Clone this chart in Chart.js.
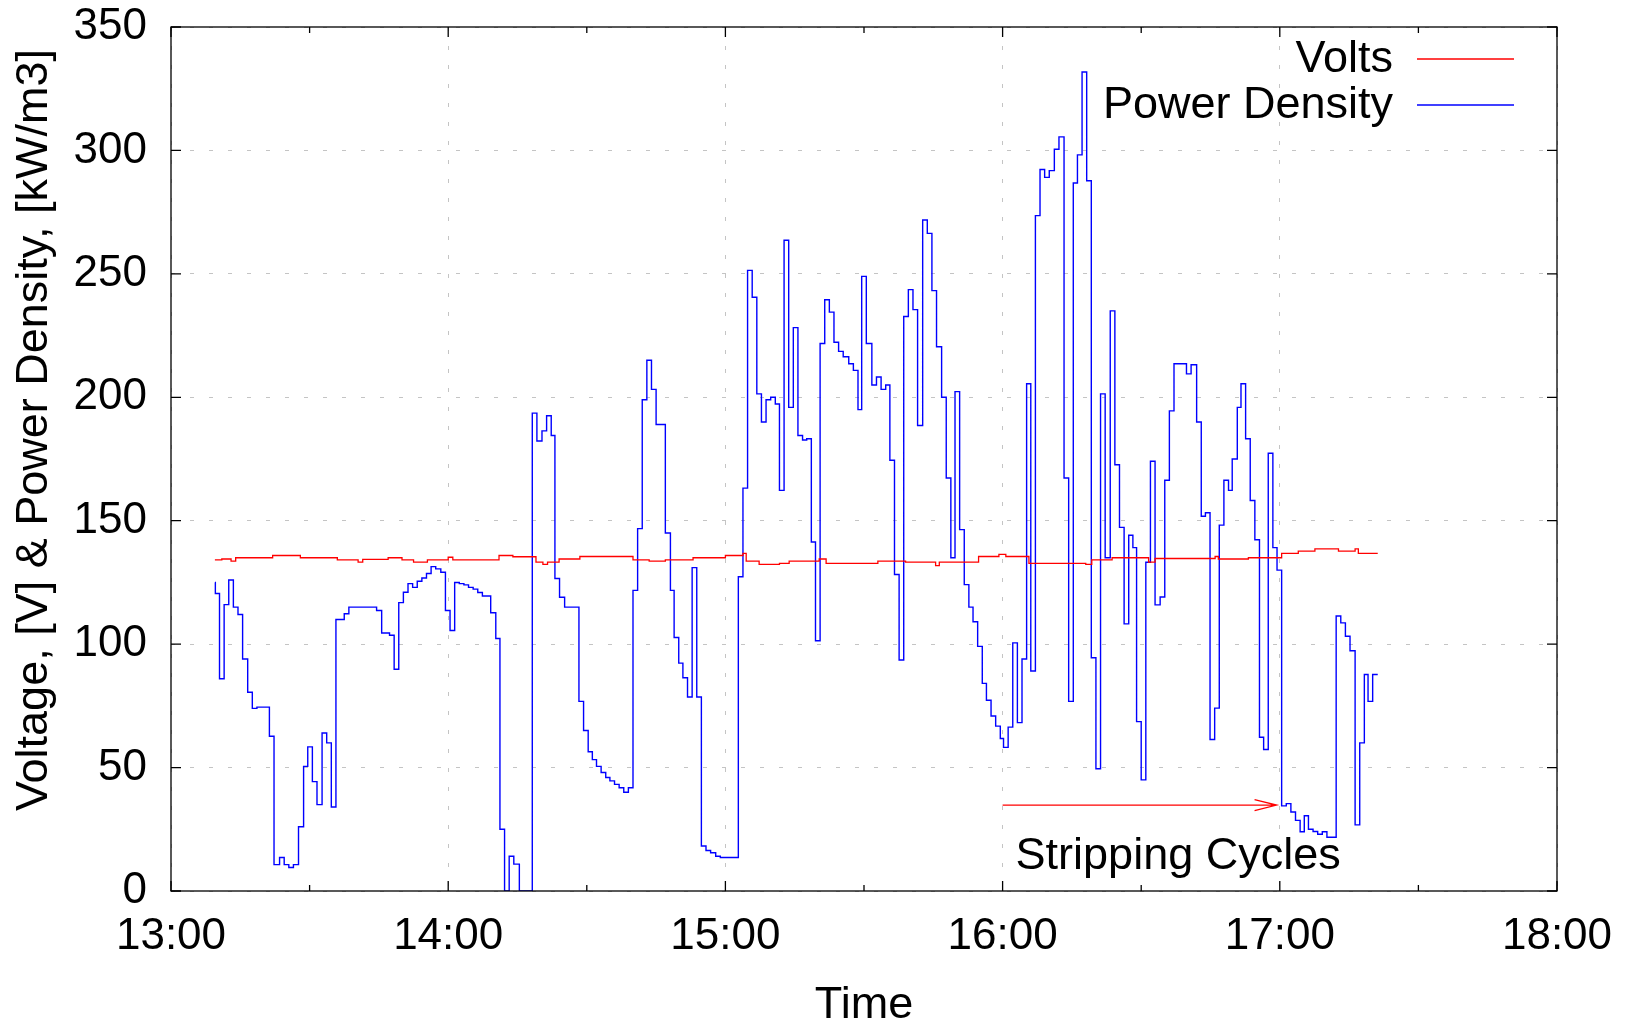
<!DOCTYPE html>
<html>
<head>
<meta charset="utf-8">
<title>Voltage & Power Density</title>
<script src="https://cdn.jsdelivr.net/npm/chart.js@4.4.0/dist/chart.umd.min.js"></script>
<style>
  html, body { margin: 0; padding: 0; background: #fff; }
  canvas { display: block; }
</style>
</head>
<body>
<canvas id="powerChart" width="1632" height="1025"></canvas>
<script>
// Time axis: minutes after 13:00
const hourLabels = ['13:00', '14:00', '15:00', '16:00', '17:00', '18:00'];

// Power density [kW/m3], stepped
const powerMinutes = [
  9.5, 9.6, 10.5, 11.5, 12.5, 13.5, 14.5, 15.5, 16.6, 17.6, 18.6, 21.3, 22.3, 23.5, 24.5, 25.5, 26.5,
  27.6, 28.7, 29.6, 30.6, 31.6, 32.7, 33.7, 34.7, 35.7, 37.5, 38.5, 44.5, 45.6, 47.3, 48.3, 49.3,
  50.3, 51.3, 52.3, 53.3, 54.3, 55.3, 56.3, 57.3, 58.4, 59.4, 60.4, 61.4, 62.4, 63.4, 64.4, 65.4,
  66.4, 67.4, 69.2, 70.3, 71.2, 72.2, 73.2, 74.2, 75.4, 78.2, 79.2, 80.3, 81.3, 82.3, 83.1, 84.1,
  85.2, 88.3, 89.3, 90.3, 91.2, 92.1, 93.1, 94.1, 95.0, 96.0, 97.0, 98.0, 99.0, 100.0, 101.0, 102.0,
  103.0, 104.0, 105.0, 107.0, 108.1, 108.9, 109.9, 110.8, 111.8, 112.8, 113.8, 114.8, 115.8, 116.8,
  117.9, 118.9, 122.8, 123.8, 124.8, 125.8, 126.8, 127.8, 128.8, 129.8, 130.8, 131.7, 132.7, 133.7,
  134.7, 135.7, 136.7, 137.6, 138.6, 139.5, 140.5, 141.5, 142.5, 143.5, 144.5, 145.5, 146.7, 147.7,
  148.7, 149.5, 150.5, 151.7, 152.7, 153.7, 154.7, 155.6, 156.6, 157.6, 158.6, 159.6, 160.6, 161.6,
  162.7, 163.7, 164.7, 165.7, 166.8, 167.8, 168.8, 169.7, 170.7, 171.7, 172.7, 173.6, 174.6, 175.6,
  176.5, 177.5, 178.5, 179.5, 180.2, 181.2, 182.2, 183.2, 184.2, 185.2, 186.1, 187.1, 188.1, 189.1,
  190.1, 191.2, 192.2, 193.3, 194.3, 195.3, 196.2, 197.2, 198.2, 199.2, 200.2, 201.2, 202.2, 203.3,
  204.3, 205.3, 206.3, 207.3, 208.2, 209.0, 210.0, 211.0, 212.0, 213.0, 214.1, 215.1, 216.1, 217.1,
  219.8, 220.8, 222.0, 223.0, 223.9, 224.9, 225.9, 226.9, 227.9, 228.9, 229.7, 230.8, 231.6, 232.6,
  233.6, 234.6, 235.6, 236.5, 237.5, 238.5, 239.4, 240.4, 241.4, 242.4, 243.4, 244.4, 245.3, 246.2,
  247.2, 248.2, 249.2, 250.2, 252.2, 253.2, 254.2, 255.2, 256.3, 257.3, 258.3, 259.1, 260.1, 261.2
];
const powerValues = [
  125, 120.5, 86, 116, 126, 115, 112, 94, 80.5, 74, 74.5, 62.7, 10.7, 13.6, 10.7, 9.5, 10.7,
  26, 50.5, 58.4, 44.3, 35, 64, 60, 34, 110, 112.3, 115, 113.6, 104.5, 103.6, 89.8, 116.8,
  121, 124.5, 123, 125.5, 126.8, 128.6, 131.4, 130.5, 129.1, 113.6, 105.5, 125, 124.5, 124, 123, 122.3,
  120.9, 119.5, 112.7, 102.3, 25, 0, 14.1, 10.9, 0, 193.6, 182.3, 186.4, 192.5, 184.5, 126.6, 119,
  115, 76.8, 65, 56.4, 53.2, 50.5, 48, 46, 44.6, 43.2, 41.8, 40, 41.8, 121.8, 146.8, 199,
  215, 203.2, 189, 145, 121.8, 102.7, 92.3, 86.4, 78.6, 131, 78.6, 18.2, 16.4, 15.5,
  14.1, 13.6, 127.3, 163.2, 251.4, 240.5, 201.4, 190, 199, 200, 197.3, 162.3, 263.6, 195.9,
  228.2, 184.5, 182.7, 183.2, 141.4, 101.4, 221.8, 239.5, 234.5, 222.3, 218.6, 216.4, 213.6, 210.9,
  195, 249, 221.8, 205, 208.2, 203.2, 205, 174.5, 128.2, 93.6, 232.7, 243.6, 235.5, 188.6,
  271.8, 266.4, 243.2, 220.5, 200, 167.3, 135, 202.3, 146.4, 124.1, 115, 109.1, 99.1, 84.1,
  77.3, 70.9, 66.8, 61.8, 58.2, 66.4, 100.5, 68.2, 94, 205.5, 89.1, 273.6, 292.3, 289.1,
  291.8, 300.5, 305.5, 167.3, 76.8, 286.8, 298.2, 331.8, 287.7, 94.5, 49.5, 201.4, 135, 235,
  172.7, 147.3, 108.2, 144.1, 139.1, 68.6, 45, 133.2, 174.1, 115.9, 119.1, 166.4, 194.5, 213.6,
  209.5, 213.2, 190, 151.8, 153.2, 61.4, 74.1, 148.2, 166.4, 162.3, 175, 195.9, 205.5, 183.2,
  158.2, 142.3, 62.3, 57.3, 177.3, 139.1, 130, 34.5, 35.4, 32, 28.6, 24, 30.5, 25,
  24.1, 23, 24, 21.8, 111.4, 108.6, 103.2, 97.3, 26.8, 60, 87.7, 76.8, 87.7, 87.7
];

// Volts [V]
const voltMinutes = [
  9.5, 11, 13, 14, 22, 28, 36, 40.5, 41.5, 47, 50, 52.5, 55.5, 60, 61, 71, 74, 79, 80.5, 81.5,
  84, 88.5, 100, 103.5, 107, 113, 120, 123.8, 124.5, 127.3, 131.7, 133.8, 140.3, 141.8, 153, 159,
  165.5, 166.3, 174.8, 179.2, 180.7, 185.7, 198, 199.3, 203.7, 211.6, 213, 226, 226.7, 233.2,
  240.4, 244, 247.6, 252.7, 256.3, 257, 261.2
];
const voltValues = [
  134.1, 134.5, 133.6, 135, 135.9, 135, 134.1, 133.2, 134.3, 135, 134.1, 133.2, 134.1, 135.2, 134.1, 135.9, 135.4, 133.2, 132.3, 133.2,
  134.5, 135.5, 134.1, 133.6, 134.1, 135, 135.9, 136.8, 133.6, 132.3, 132.7, 133.6, 134.5, 132.7, 133.6, 133.2,
  131.8, 133.2, 135.5, 136.4, 135.5, 132.7, 132.3, 134.1, 135, 133.2, 134.7, 135.5, 134.5, 135,
  136.8, 137.7, 138.6, 137.7, 138.6, 136.8, 136.8
];

// Annotation "Stripping Cycles": arrow from 16:00 to ~17:00
const arrowFrom = 180;
const arrowTo = 239.3;
const arrowLevel = 34.8;

const FONT = "'Liberation Sans', Arial, sans-serif";

function toPoints(xs, ys) {
  return xs.map((m, i) => ({ x: m, y: ys[i] }));
}

const framePlugin = {
  id: 'frame',
  beforeDraw(chart) {
    const ctx = chart.ctx;
    ctx.save();
    ctx.fillStyle = '#fff';
    ctx.fillRect(0, 0, chart.width, chart.height);
    ctx.restore();
  },
  afterDraw(chart) {
    const { ctx, chartArea: a, scales: { x, y } } = chart;
    ctx.save();

    // arrow
    const ax0 = x.getPixelForValue(arrowFrom);
    const ax1 = x.getPixelForValue(arrowTo);
    const ay = y.getPixelForValue(arrowLevel);
    ctx.strokeStyle = '#ff0000';
    ctx.lineWidth = 1.3;
    ctx.beginPath();
    ctx.moveTo(ax0, ay);
    ctx.lineTo(ax1, ay);
    ctx.moveTo(ax1 - 22, ay - 5.5);
    ctx.lineTo(ax1, ay);
    ctx.lineTo(ax1 - 22, ay + 5.5);
    ctx.stroke();

    ctx.fillStyle = '#000';
    ctx.font = '45px ' + FONT;
    ctx.textAlign = 'center';
    ctx.textBaseline = 'middle';
    ctx.fillText('Stripping Cycles', x.getPixelForValue(218), y.getPixelForValue(14));

    // frame + inward ticks (mirrored)
    ctx.strokeStyle = '#000';
    ctx.lineWidth = 1.3;
    ctx.strokeRect(a.left, a.top, a.right - a.left, a.bottom - a.top);
    ctx.beginPath();
    for (let m = 0; m <= 300; m += 30) {
      const px = x.getPixelForValue(m);
      const len = m % 60 === 0 ? 10 : 6;
      ctx.moveTo(px, a.bottom); ctx.lineTo(px, a.bottom - len);
      ctx.moveTo(px, a.top); ctx.lineTo(px, a.top + len);
    }
    for (let v = 0; v <= 350; v += 50) {
      const py = y.getPixelForValue(v);
      ctx.moveTo(a.left, py); ctx.lineTo(a.left + 10, py);
      ctx.moveTo(a.right, py); ctx.lineTo(a.right - 10, py);
    }
    ctx.stroke();

    // y title
    ctx.save();
    ctx.translate(35, 430);
    ctx.rotate(-Math.PI / 2);
    ctx.font = '45px ' + FONT;
    ctx.textAlign = 'center';
    ctx.textBaseline = 'middle';
    ctx.fillText('Voltage, [V] & Power Density, [kW/m3]', 0, 0);
    ctx.restore();

    // legend
    const rows = [['Volts', '#ff0000', 60], ['Power Density', '#0000ff', 106]];
    ctx.font = '45px ' + FONT;
    ctx.textAlign = 'right';
    ctx.textBaseline = 'middle';
    rows.forEach(([label, color, ly]) => {
      ctx.fillStyle = '#000';
      ctx.fillText(label, 1393, ly);
      ctx.strokeStyle = color;
      ctx.lineWidth = 1.3;
      ctx.beginPath();
      ctx.moveTo(1417, ly - 1);
      ctx.lineTo(1514, ly - 1);
      ctx.stroke();
    });

    ctx.restore();
  }
};

const ctxPower = document.getElementById('powerChart').getContext('2d');
new Chart(ctxPower, {
  type: 'line',
  data: {
    datasets: [
      {
        label: 'Volts',
        data: toPoints(voltMinutes, voltValues),
        borderColor: '#ff0000',
        borderWidth: 1.3,
        pointRadius: 0,
        stepped: true,
        fill: false
      },
      {
        label: 'Power Density',
        data: toPoints(powerMinutes, powerValues),
        borderColor: '#0000ff',
        borderWidth: 1.4,
        pointRadius: 0,
        stepped: true,
        fill: false
      }
    ]
  },
  options: {
    responsive: false,
    animation: false,
    events: [],
    layout: { padding: { top: 27, right: 75, left: 0, bottom: 0 } },
    plugins: {
      legend: { display: false },
      tooltip: { enabled: false }
    },
    scales: {
      x: {
        type: 'linear',
        min: 0,
        max: 300,
        afterFit: (s) => { s.height = 134; s.paddingLeft = 0; s.paddingRight = 0; },
        ticks: {
          stepSize: 60,
          padding: 19,
          color: '#000',
          font: { family: FONT, size: 44 },
          maxRotation: 0,
          callback: (v) => hourLabels[Math.round(v / 60)]
        },
        grid: { color: '#c4c4c4', drawTicks: false, lineWidth: 1 },
        border: { display: false, dash: [4, 15] },
        title: {
          display: true,
          text: 'Time',
          color: '#000',
          font: { family: FONT, size: 45, lineHeight: 0.85 },
          padding: 0
        }
      },
      y: {
        min: 0,
        max: 350,
        afterFit: (s) => { s.width = 171; s.paddingTop = 0; s.paddingBottom = 0; },
        ticks: {
          stepSize: 50,
          padding: 24,
          color: '#000',
          font: { family: FONT, size: 44 }
        },
        grid: { color: '#c4c4c4', drawTicks: false, lineWidth: 1 },
        border: { display: false, dash: [4, 15] }
      }
    }
  },
  plugins: [framePlugin]
});
</script>
</body>
</html>
